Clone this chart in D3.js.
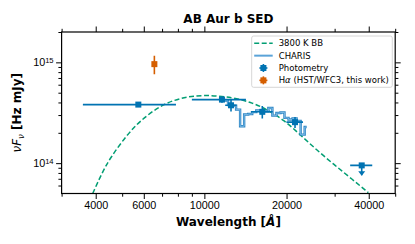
<!DOCTYPE html>
<html>
<head>
<meta charset="utf-8">
<script src="https://cdn.jsdelivr.net/npm/d3@7"></script>
<style>
  body { margin: 0; background: #fff; }
  svg { font-family: "DejaVu Sans", sans-serif; }
</style>
</head>
<body>
<svg id="sed" width="415" height="244"></svg>
<script>
// blackbody curve
const bbWave = [3900, 4200, 4510, 5200, 5810, 6880, 8140, 9910, 12740, 15080, 16930, 19470, 22410, 25800, 29680, 34170, 39860];
const bbFlux = [0.50e14, 0.78e14, 1.12e14, 1.90e14, 2.62e14, 3.73e14, 4.44e14, 4.79e14, 4.50e14, 3.96e14, 3.40e14, 2.71e14, 1.92e14, 1.35e14, 0.98e14, 0.72e14, 0.51e14];

// CHARIS spectrum channels
const charisWave = [11600, 12000, 12420, 12850, 13290, 13750, 14230, 14720, 15230, 15760, 16300, 16860, 17450, 18050, 18680, 19320, 19990, 20680, 21400, 22140, 22910, 23700];
const charisFlux = [4.18e14, 4.18e14, 3.77e14, 3.72e14, 3.40e14, 2.32e14, 3.04e14, 3.07e14, 3.21e14, 3.33e14, 3.25e14, 3.25e14, 3.52e14, 2.96e14, 3.14e14, 3.18e14, 2.81e14, 2.71e14, 2.77e14, 2.62e14, 1.92e14, 2.28e14];

// photometry
const photWave = [5730, 11600, 12520, 16300, 21480];
const photWaveErr = [2140, 2600, 600, 1500, 1500];
const photFlux = [3.81e14, 4.27e14, 3.75e14, 3.23e14, 2.55e14];
const photFluxErr = [0, 0.3e14, 0.5e14, 0.45e14, 0.32e14];

// upper limit
const ulWave = [37700];
const ulWaveErr = [3500];
const ulFlux = [0.95e14];

// H-alpha
const haWave = [6560];
const haFlux = [9.6e14];
const haFluxErr = [2.0e14];

const xMajor = [4000, 6000, 10000, 20000, 40000];
const xMinor = [3000, 5000, 7000, 8000, 9000, 30000, 50000];
const yMajor = [1e14, 1e15];
const yMinor = [6e13, 7e13, 8e13, 9e13, 2e14, 3e14, 4e14, 5e14, 6e14, 7e14, 8e14, 9e14, 2e15];
const yMajorLabel = ["14", "15"];

const blue = "#0173b2", orange = "#d55e00", green = "#029e73";

const svg = d3.select("#sed");
const margin = {top: 32, right: 19.8, bottom: 50.5, left: 61.6};
const W = 415, H = 244;

const x = d3.scaleLog().domain([3000, 50000]).range([margin.left, W - margin.right]);
const y = d3.scaleLog().domain([5e13, 2e15]).range([H - margin.bottom, margin.top]);

svg.append("clipPath").attr("id", "clip")
  .append("rect")
  .attr("x", margin.left).attr("y", margin.top)
  .attr("width", x.range()[1] - x.range()[0])
  .attr("height", y.range()[0] - y.range()[1]);

const plot = svg.append("g").attr("clip-path", "url(#clip)");

// blackbody
const bb = bbWave.map((w, i) => [w, bbFlux[i]]);
plot.append("path")
  .datum(bb)
  .attr("fill", "none")
  .attr("stroke", green)
  .attr("stroke-width", 1.5)
  .attr("stroke-dasharray", "5,2.5")
  .attr("d", d3.line().x(d => x(d[0])).y(d => y(d[1])).curve(d3.curveBasis));

// CHARIS
const charis = charisWave.map((w, i) => [w, charisFlux[i]]);
const stepLine = d3.line().x(d => x(d[0])).y(d => y(d[1])).curve(d3.curveStep);
plot.append("path").datum(charis)
  .attr("fill", "none").attr("stroke", "#2f86c4").attr("stroke-width", 2.4)
  .attr("d", stepLine);
plot.append("path").datum(charis)
  .attr("fill", "none").attr("stroke", "#7dbbe6").attr("stroke-width", 0.9)
  .attr("d", stepLine);

function errPoint(g, cx, cy, xl, xr, yt, yb, color) {
  if (xr - xl > 0) g.append("line").attr("x1", xl).attr("x2", xr).attr("y1", cy).attr("y2", cy)
    .attr("stroke", color).attr("stroke-width", 1.6);
  if (yb - yt > 0) g.append("line").attr("x1", cx).attr("x2", cx).attr("y1", yt).attr("y2", yb)
    .attr("stroke", color).attr("stroke-width", 1.6);
  g.append("rect").attr("x", cx - 3).attr("y", cy - 3).attr("width", 6).attr("height", 6)
    .attr("fill", color);
}

// photometry
photWave.forEach((w, i) => {
  errPoint(plot, x(w), y(photFlux[i]),
    x(w - photWaveErr[i]), x(w + photWaveErr[i]),
    y(photFlux[i] + photFluxErr[i]), y(photFlux[i] - photFluxErr[i]), blue);
});

// upper limit with arrow
ulWave.forEach((w, i) => {
  const cx = x(w), cy = y(ulFlux[i]), cb = y(ulFlux[i] * 0.8);
  plot.append("line").attr("x1", cx).attr("x2", cx).attr("y1", cy).attr("y2", cb)
    .attr("stroke", blue).attr("stroke-width", 1.6);
  plot.append("path")
    .attr("d", `M${cx - 3.5},${cb - 4}L${cx + 3.5},${cb - 4}L${cx},${cb + 0.5}Z`)
    .attr("fill", blue);
  errPoint(plot, cx, cy, x(w - ulWaveErr[i]), x(w + ulWaveErr[i]), cy, cy, blue);
});

// H-alpha
haWave.forEach((w, i) => {
  errPoint(plot, x(w), y(haFlux[i]), x(w), x(w),
    y(haFlux[i] + haFluxErr[i]), y(haFlux[i] - haFluxErr[i]), orange);
});

// axes
function styleAxis(g) {
  g.select(".domain").remove();
  g.selectAll(".tick line").attr("stroke", "#000").attr("stroke-width", 1);
  g.selectAll(".tick text").attr("fill", "#000").attr("font-size", 10.8);
}

const xTicks = xMajor.concat(xMinor);
const isXMajor = d => xMajor.includes(d);
const xb = svg.append("g").attr("transform", `translate(0,${y.range()[0]})`)
  .call(d3.axisBottom(x).tickValues(xTicks).tickFormat(d => isXMajor(d) ? d : "").tickSizeOuter(0));
styleAxis(xb);
xb.selectAll(".tick line").attr("y2", d => isXMajor(d) ? 5.5 : 3.2);
xb.selectAll(".tick text").attr("y", 8);

const xt = svg.append("g").attr("transform", `translate(0,${y.range()[1]})`)
  .call(d3.axisTop(x).tickValues(xTicks).tickFormat("").tickSizeOuter(0));
styleAxis(xt);
xt.selectAll(".tick line").attr("y2", d => isXMajor(d) ? -5.5 : -3.2);

const yTicks = yMajor.concat(yMinor);
const isYMajor = d => yMajor.includes(d);
const yl = svg.append("g").attr("transform", `translate(${x.range()[0]},0)`)
  .call(d3.axisLeft(y).tickValues(yTicks).tickFormat("").tickSizeOuter(0));
styleAxis(yl);
yl.selectAll(".tick line").attr("x2", d => isYMajor(d) ? -5.5 : -3.2);
yl.selectAll(".tick").filter(isYMajor).each(function(d) {
  const t = d3.select(this).append("text")
    .attr("x", -8).attr("dy", "0.32em").attr("text-anchor", "end")
    .attr("font-size", 10.8).attr("fill", "#000");
  t.append("tspan").text("10");
  t.append("tspan").attr("dy", "-0.45em").attr("font-size", 7.6)
    .text(yMajorLabel[yMajor.indexOf(d)]);
});

const yr = svg.append("g").attr("transform", `translate(${x.range()[1]},0)`)
  .call(d3.axisRight(y).tickValues(yTicks).tickFormat("").tickSizeOuter(0));
styleAxis(yr);
yr.selectAll(".tick line").attr("x2", d => isYMajor(d) ? 5.5 : 3.2);

// frame
svg.append("rect")
  .attr("x", x.range()[0]).attr("y", y.range()[1])
  .attr("width", x.range()[1] - x.range()[0])
  .attr("height", y.range()[0] - y.range()[1])
  .attr("fill", "none").attr("stroke", "#000").attr("stroke-width", 1.2);

// title & labels
const cx = (x.range()[0] + x.range()[1]) / 2;
svg.append("text").attr("x", cx).attr("y", 22.5).attr("text-anchor", "middle")
  .attr("font-size", 12).attr("font-weight", "bold").text("AB Aur b SED");

const xl = svg.append("text").attr("x", cx).attr("y", 226).attr("text-anchor", "middle")
  .attr("font-size", 12).attr("font-weight", "bold");
xl.append("tspan").text("Wavelength [");
xl.append("tspan").attr("font-style", "italic").text("Å");
xl.append("tspan").text("]");

const cy = (y.range()[0] + y.range()[1]) / 2;
const ylab = svg.append("text")
  .attr("transform", `translate(21,${cy}) rotate(-90)`)
  .attr("text-anchor", "middle").attr("font-size", 12);
ylab.append("tspan").attr("font-style", "italic").text("νF");
ylab.append("tspan").attr("font-style", "italic").attr("font-size", 8.5).attr("dy", 2.5).text("ν");
ylab.append("tspan").attr("dy", -2.5).attr("font-weight", "bold").text(" [Hz mJy]");

// legend
const lg = svg.append("g").attr("transform", "translate(251.7,36)");
lg.append("rect").attr("width", 140.6).attr("height", 51.3).attr("rx", 2)
  .attr("fill", "#fff").attr("fill-opacity", 0.8)
  .attr("stroke", "#cccccc").attr("stroke-width", 0.8);
const rows = ["3800 K BB", "CHARIS", "Photometry", "Hα (HST/WFC3, this work)"];
rows.forEach((label, i) => {
  const ry = 7.3 + i * 12.35;
  if (i === 0) lg.append("line").attr("x1", 2.5).attr("x2", 21).attr("y1", ry).attr("y2", ry)
    .attr("stroke", green).attr("stroke-width", 1.5).attr("stroke-dasharray", "5,2.5");
  if (i === 1) lg.append("line").attr("x1", 2.5).attr("x2", 21).attr("y1", ry).attr("y2", ry)
    .attr("stroke", "#5aa3d8").attr("stroke-width", 2);
  if (i >= 2) {
    const c = i === 2 ? blue : orange;
    errPoint(lg, 11.7, ry, 7.7, 15.7, ry - 4, ry + 4, c);
  }
  const t = lg.append("text").attr("x", 27).attr("y", ry).attr("dy", "0.35em")
    .attr("font-size", 8.5).attr("fill", "#000");
  if (i === 3) {
    t.append("tspan").text("H");
    t.append("tspan").attr("font-style", "italic").text("α");
    t.append("tspan").text(" (HST/WFC3, this work)");
  } else {
    t.text(label);
  }
});
</script>
</body>
</html>
